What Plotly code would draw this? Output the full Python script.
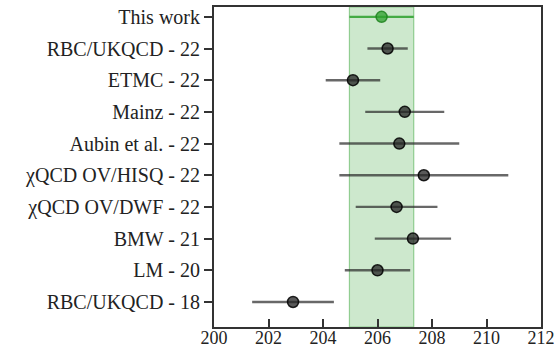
import plotly.graph_objects as go

# Lattice results for the intermediate-window contribution (units of 1e-10)
labels = ["This work", "RBC/UKQCD - 22", "ETMC - 22", "Mainz - 22", "Aubin et al. - 22",
          "χQCD OV/HISQ - 22", "χQCD OV/DWF - 22", "BMW - 21", "LM - 20", "RBC/UKQCD - 18"]
values = [206.15, 206.37, 205.10, 207.0, 206.8, 207.7, 206.7, 207.3, 206.0, 202.9]
errors = [1.18, 0.74, 1.0, 1.45, 2.2, 3.1, 1.5, 1.4, 1.2, 1.5]

n = len(labels)
ypos = [n - 1 - i for i in range(n)]

fig = go.Figure()

ours_val, ours_err = values[0], errors[0]

# Band for this work
fig.add_shape(type="rect", xref="x", yref="paper",
              x0=ours_val - ours_err, x1=ours_val + ours_err, y0=0, y1=1,
              fillcolor="rgba(44,160,44,0.24)",
              line=dict(color="rgba(44,160,44,0.45)", width=1.2), layer="below")

# Other determinations
fig.add_trace(go.Scatter(
    x=values[1:], y=ypos[1:], mode="markers",
    marker=dict(size=11, color="rgba(35,35,35,0.75)",
                line=dict(color="rgba(0,0,0,0.85)", width=1.5)),
    error_x=dict(type="data", array=errors[1:], color="rgba(40,40,40,0.7)",
                 thickness=2.4, width=0),
    showlegend=False))

# This work
fig.add_trace(go.Scatter(
    x=[ours_val], y=[ypos[0]], mode="markers",
    marker=dict(size=11, color="rgba(44,160,44,0.75)",
                line=dict(color="rgba(30,130,30,0.85)", width=1.5)),
    error_x=dict(type="data", array=[ours_err], color="rgba(44,160,44,0.85)",
                 thickness=2.2, width=0),
    showlegend=False))

yfont = dict(family="Liberation Serif, DejaVu Serif, serif", size=20, color="#222")
xfont = dict(family="Liberation Serif, DejaVu Serif, serif", size=18, color="#222")

fig.update_layout(
    width=557, height=347,
    margin=dict(l=214, r=16, t=7, b=20),
    paper_bgcolor="white", plot_bgcolor="white",
    font=yfont,
    xaxis=dict(range=[200, 212], tickvals=[200, 202, 204, 206, 208, 210, 212],
               ticks="inside", ticklen=8, tickwidth=2, tickcolor="#333",
               showline=True, linecolor="#333", linewidth=2, mirror=True,
               showgrid=False, zeroline=False, tickfont=xfont, automargin=False,
               ticklabelstandoff=-7),
    yaxis=dict(range=[-0.79, n - 1 + 0.31], tickvals=ypos, ticktext=labels,
               ticks="outside", ticklen=8, tickwidth=2, tickcolor="#333",
               showline=True, linecolor="#333", linewidth=2, mirror=True,
               showgrid=False, zeroline=False, tickfont=yfont, automargin=False),
)

fig.write_html("out.html")
